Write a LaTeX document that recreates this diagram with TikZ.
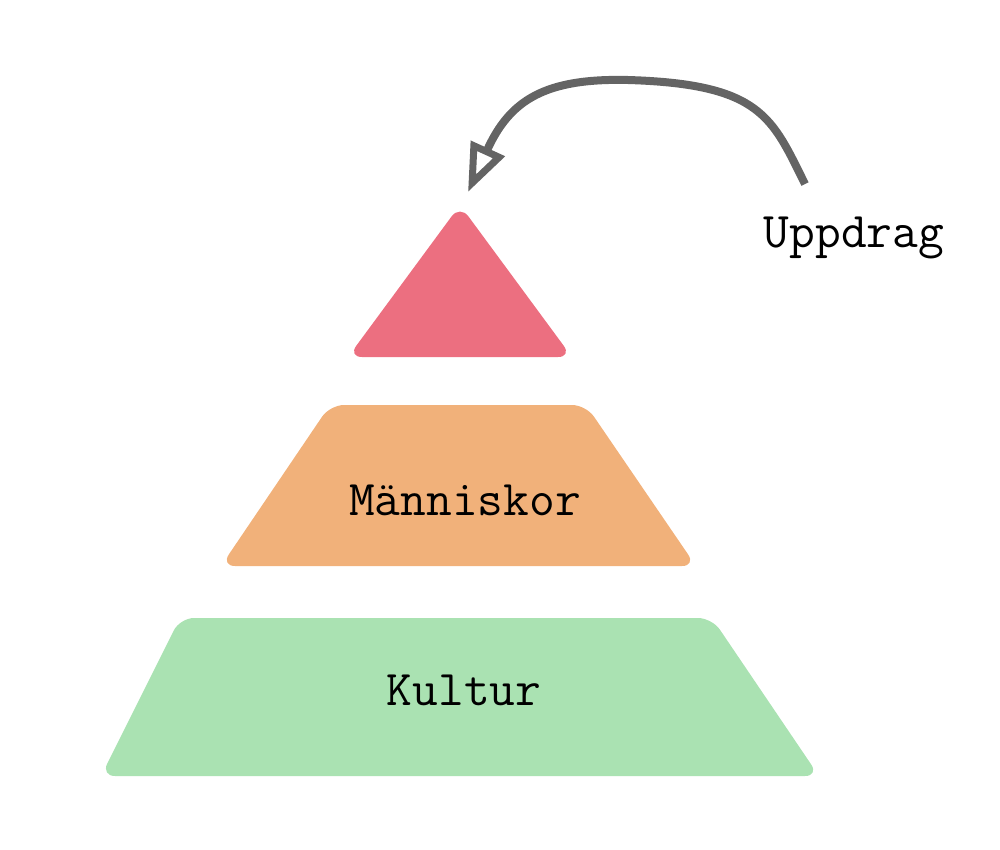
\documentclass[tikz,border=0pt]{standalone}
\definecolor{pyrred}{RGB}{236,111,128}
\definecolor{pyrorange}{RGB}{241,177,122}
\definecolor{pyrgreen}{RGB}{170,226,178}
\definecolor{pyrgray}{RGB}{100,100,100}
\usetikzlibrary{arrows.meta,positioning,calc}

\begin{document}
\begin{tikzpicture}[x=1pt,y=-1pt,
  pyrlayer/.style={rounded corners=14pt},
  pyrlabel/.style={font=\ttfamily\fontsize{50}{56}\selectfont,text=black,inner sep=2pt},
  pyrarrow/.style={-{Triangle[open,length=48pt,width=36pt,line width=7pt]},
    line width=8pt,pyrgray}
]
  \useasboundingbox (0,0) rectangle (1000,849);

  % Top level (triangle)
  \fill[pyrlayer,pyrred] (460,205) -- (572,357) -- (348,357) -- cycle;
  \coordinate (apex) at (468,192);

  % Middle level
  \fill[pyrlayer,pyrorange] (330,405) -- (586,405) -- (696,566) -- (221,566) -- cycle;
  \node[pyrlabel] (mann) at (465,500) {Människor};

  % Bottom level
  \fill[pyrlayer,pyrgreen] (180,618) -- (712,618) -- (819,776) -- (101,776) -- cycle;
  \node[pyrlabel] (kult) at (464,690) {Kultur};

  % Mission label and arrow
  \node[pyrlabel] (upp) at (854,238) {Uppdrag};
  \coordinate (src) at (805,184);
  \draw[pyrarrow] (src) .. controls (772,118) and (762,84) .. (628,80)
    .. controls (545,78) and (510,100) .. (apex);
\end{tikzpicture}
\end{document}
